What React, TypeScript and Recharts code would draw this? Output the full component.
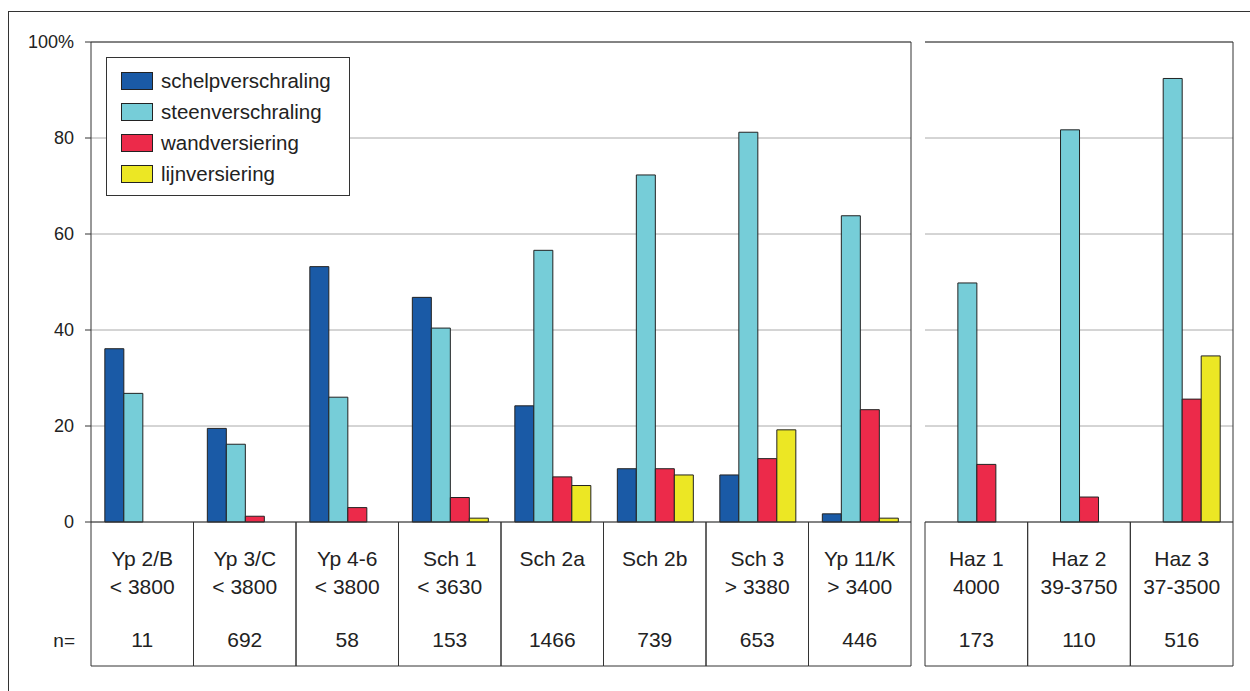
import { BarChart, Bar, XAxis, YAxis, CartesianGrid } from "recharts";

// left panel: dated groups
const LEFT_NAMES = ["Yp 2/B", "Yp 3/C", "Yp 4-6", "Sch 1", "Sch 2a", "Sch 2b", "Sch 3", "Yp 11/K"];
const LEFT_DATES = ["< 3800", "< 3800", "< 3800", "< 3630", "", "", "> 3380", "> 3400"];
const LEFT_N = [11, 692, 58, 153, 1466, 739, 653, 446];
const LEFT_SCHELP = [36.1, 19.5, 53.2, 46.8, 24.2, 11.1, 9.8, 1.7];
const LEFT_STEEN = [26.8, 16.2, 26.0, 40.4, 56.6, 72.3, 81.2, 63.8];
const LEFT_WAND = [0, 1.2, 3.0, 5.1, 9.4, 11.1, 13.2, 23.4];
const LEFT_LIJN = [0, 0, 0, 0.8, 7.6, 9.8, 19.2, 0.8];

// right panel: Hazendonk
const RIGHT_NAMES = ["Haz 1", "Haz 2", "Haz 3"];
const RIGHT_DATES = ["4000", "39-3750", "37-3500"];
const RIGHT_N = [173, 110, 516];
const RIGHT_SCHELP = [0, 0, 0];
const RIGHT_STEEN = [49.8, 81.7, 92.4];
const RIGHT_WAND = [12.0, 5.2, 25.6];
const RIGHT_LIJN = [0, 0, 34.6];

const Y_TICKS = [0, 20, 40, 60, 80, 100];

const SERIES = [
  { key: "schelp", label: "schelpverschraling", color: "#1a5aa6" },
  { key: "steen", label: "steenverschraling", color: "#76cdd8" },
  { key: "wand", label: "wandversiering", color: "#ec2a4a" },
  { key: "lijn", label: "lijnversiering", color: "#ece724" },
];

const FONT = "'Liberation Sans', Arial, Helvetica, sans-serif";
const FRAME = "#333";
const TABLE_H = 144;

const build = (names: string[], dates: string[], n: number[], a: number[], b: number[], c: number[], d: number[]) =>
  names.map((name, i) => ({ name, date: dates[i], n: n[i], schelp: a[i], steen: b[i], wand: c[i], lijn: d[i] }));

const leftData = build(LEFT_NAMES, LEFT_DATES, LEFT_N, LEFT_SCHELP, LEFT_STEEN, LEFT_WAND, LEFT_LIJN);
const rightData = build(RIGHT_NAMES, RIGHT_DATES, RIGHT_N, RIGHT_SCHELP, RIGHT_STEEN, RIGHT_WAND, RIGHT_LIJN);

const makeCell = (rows: { name: string; date: string; n: number }[], colW: number, showN: boolean) => (props: any) => {
  const { x, y, index } = props;
  const row = rows[index];
  const left = x - colW / 2;
  const right = x + colW / 2;
  return (
    <g>
      <line x1={left} y1={y} x2={left} y2={y + TABLE_H} stroke={FRAME} />
      <line x1={right} y1={y} x2={right} y2={y + TABLE_H} stroke={FRAME} />
      <line x1={left} y1={y + TABLE_H} x2={right} y2={y + TABLE_H} stroke={FRAME} />
      <text x={x} y={y + 44} textAnchor="middle" fontSize={21} fill="#222" fontFamily={FONT}>
        {row.name}
      </text>
      <text x={x} y={y + 72} textAnchor="middle" fontSize={21} fill="#222" fontFamily={FONT}>
        {row.date}
      </text>
      <text x={x} y={y + 125} textAnchor="middle" fontSize={21} fill="#222" fontFamily={FONT}>
        {row.n}
      </text>
      {showN && index === 0 && (
        <text x={left - 16} y={y + 125} textAnchor="end" fontSize={19} fill="#222" fontFamily={FONT}>
          n=
        </text>
      )}
    </g>
  );
};

const Panel = ({ data, width, left, right, showY }: { data: any[]; width: number; left: number; right: number; showY: boolean }) => {
  // the frame axes on top / right / left each take 1px
  const plotW = width - left - right - (showY ? 91 : 1) - 1;
  const colW = plotW / data.length;
  return (
    <BarChart
      width={width}
      height={691}
      data={data}
      margin={{ top: 41, right, left, bottom: 25 }}
      barCategoryGap="13.5%"
      barGap={0}
    >
      <CartesianGrid vertical={false} stroke="#aaa" />
      <XAxis
        dataKey="name"
        height={TABLE_H}
        axisLine={{ stroke: FRAME }}
        tickLine={false}
        tickSize={0}
        tickMargin={0}
        interval={0}
        tick={makeCell(data, colW, showY)}
      />
      <XAxis xAxisId="top" orientation="top" dataKey="name" height={1} tick={false} tickLine={false} axisLine={{ stroke: FRAME }} />
      <YAxis
        domain={[0, 100]}
        ticks={Y_TICKS}
        hide={!showY}
        width={91}
        axisLine={{ stroke: FRAME }}
        tickLine={{ stroke: FRAME }}
        tickSize={6}
        tickMargin={11}
        tick={{ fontSize: 18, fill: "#222", fontFamily: FONT }}
        tickFormatter={(v: number) => (v === 100 ? "100%" : String(v))}
      />
      {!showY && (
        <YAxis yAxisId="leftline" orientation="left" width={1} domain={[0, 100]} tick={false} tickLine={false} axisLine={{ stroke: FRAME }} />
      )}
      <YAxis yAxisId="rightline" orientation="right" width={1} domain={[0, 100]} tick={false} tickLine={false} axisLine={{ stroke: FRAME }} />
      {SERIES.map(s => (
        <Bar key={s.key} dataKey={s.key} fill={s.color} stroke="#222" strokeWidth={1} isAnimationActive={false} />
      ))}
    </BarChart>
  );
};

const Legend = () => (
  <div
    style={{
      position: "absolute",
      left: 106,
      top: 57,
      width: 242,
      height: 137,
      border: `1px solid ${FRAME}`,
      background: "#fff",
      fontFamily: FONT,
      fontSize: 20.5,
      color: "#222",
    }}
  >
    {SERIES.map((s, i) => (
      <div key={s.key} style={{ position: "absolute", left: 14, top: 11 + i * 31, display: "flex", alignItems: "center", height: 24 }}>
        <div style={{ width: 30, height: 16, background: s.color, border: "1px solid #222", marginRight: 8 }} />
        <span>{s.label}</span>
      </div>
    ))}
  </div>
);

export default function App() {
  return (
    <div style={{ position: "absolute", left: 0, top: 0, width: 1250, height: 691, background: "#fff", overflow: "hidden" }}>
      <div style={{ position: "absolute", left: 8, top: 11, width: 1300, height: 700, borderTop: `1px solid ${FRAME}`, borderLeft: `1px solid ${FRAME}` }} />
      <div style={{ position: "absolute", left: 0, top: 0 }}>
        <Panel data={leftData} width={920} left={0} right={8} showY={true} />
      </div>
      <div style={{ position: "absolute", left: 900, top: 0 }}>
        <Panel data={rightData} width={350} left={24} right={16} showY={false} />
      </div>
      <Legend />
    </div>
  );
}
